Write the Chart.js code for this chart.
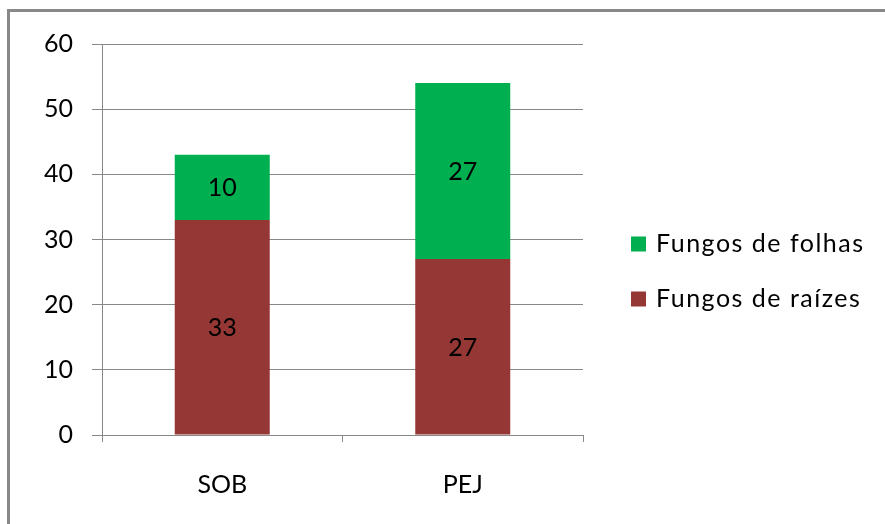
<!DOCTYPE html>
<html><head><meta charset="utf-8">
<script src="https://cdn.jsdelivr.net/npm/chart.js@4/dist/chart.umd.min.js"></script>
<style>
html,body{margin:0;padding:0;background:#fff;overflow:hidden;}
#wrap{position:absolute;left:0;top:0;width:885px;height:524px;}
#frame{position:absolute;left:7px;top:9px;width:1000px;height:600px;border:3px solid #888;box-sizing:border-box;}
canvas{position:absolute;left:0;top:0;}
</style></head>
<body>
<div id="wrap"><div id="frame"></div><canvas id="c" width="885" height="524"></canvas></div>
<script>
const categories = ["SOB", "PEJ"];
const raizes = [33, 27];
const folhas = [10, 27];
const seriesNames = ["Fungos de raízes", "Fungos de folhas"];
const yTicks = [0, 10, 20, 30, 40, 50, 60];

const FONT = "Lato";
const FS = 25;

const valueLabels = {
  id: 'valueLabels',
  afterDatasetsDraw(chart) {
    const ctx = chart.ctx;
    ctx.save();
    ctx.font = FS + "px " + FONT;
    ctx.fillStyle = "#000";
    ctx.textAlign = "center";
    ctx.textBaseline = "middle";
    chart.data.datasets.forEach((ds, i) => {
      chart.getDatasetMeta(i).data.forEach((bar, j) => {
        const p = bar.getProps(['x', 'y', 'base'], true);
        ctx.fillText(String(ds.data[j]), p.x, (p.y + p.base) / 2 + 1);
      });
    });
    ctx.restore();
  }
};

const customLegend = {
  id: 'customLegend',
  afterDraw(chart) {
    const ctx = chart.ctx;
    ctx.save();
    ctx.font = FS + "px " + FONT;
    ctx.textBaseline = "middle";
    ctx.textAlign = "left";
    try { ctx.letterSpacing = "1.5px"; } catch (e) {}
    const items = chart.data.datasets.map(d => d).reverse();
    items.forEach((ds, k) => {
      const cy = 244 + k * 55;
      ctx.fillStyle = ds.backgroundColor;
      ctx.fillRect(631, cy - 7.5, 15, 15);
      ctx.fillStyle = "#000";
      ctx.fillText(ds.label, 656, cy);
    });
    ctx.restore();
  }
};

new Chart(document.getElementById('c'), {
  type: 'bar',
  data: {
    labels: categories,
    datasets: [
      { label: seriesNames[0], data: raizes, backgroundColor: "#953735", barPercentage: 0.395, categoryPercentage: 1 },
      { label: seriesNames[1], data: folhas, backgroundColor: "#00B050", barPercentage: 0.395, categoryPercentage: 1 }
    ]
  },
  options: {
    responsive: false,
    animation: false,
    layout: { padding: { left: 0, top: 44, right: 302, bottom: 0 } },
    plugins: { legend: { display: false }, tooltip: { enabled: false } },
    scales: {
      x: {
        stacked: true,
        offset: true,
        afterFit(s) { s.height = 89; },
        grid: { display: true, offset: true, drawOnChartArea: false, tickLength: 7, color: "#888" },
        border: { display: true, color: "#888" },
        ticks: { font: { family: FONT, size: FS }, color: "#000", padding: 28 }
      },
      y: {
        stacked: true,
        min: 0, max: 60,
        afterFit(s) { s.width = 102; },
        afterBuildTicks(s) { s.ticks = yTicks.map(v => ({ value: v })); },
        grid: { color: "#888", tickLength: 10 },
        border: { display: true, color: "#888" },
        ticks: { font: { family: FONT, size: FS }, color: "#000", padding: 19 }
      }
    }
  },
  plugins: [valueLabels, customLegend]
});
</script>
</body></html>
